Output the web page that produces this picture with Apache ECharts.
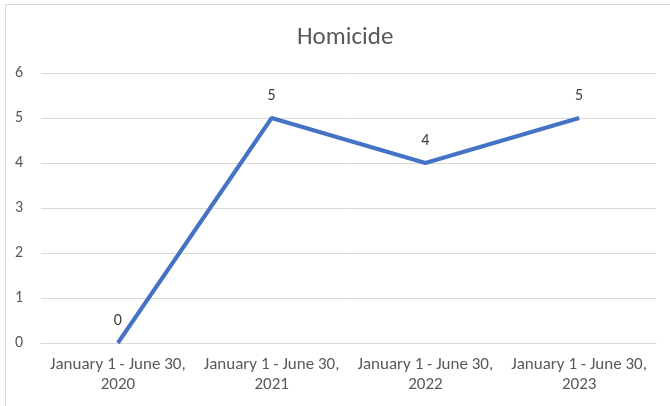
<!DOCTYPE html>
<html>
<head>
<meta charset="utf-8">
<script src="https://cdn.jsdelivr.net/npm/echarts@6/dist/echarts.min.js"></script>
<style>
  html, body { margin: 0; padding: 0; background: #fff; }
  #main { width: 670px; height: 406px; }
</style>
</head>
<body>
<div id="main"></div>
<script>
var categories = ['January 1 - June 30,\n2020', 'January 1 - June 30,\n2021', 'January 1 - June 30,\n2022', 'January 1 - June 30,\n2023'];
var homicide = [0, 5, 4, 5];
var yTicks = [0, 1, 2, 3, 4, 5, 6];

var myChart = echarts.init(document.getElementById('main'));
var font = 'Calibri, Carlito, "Liberation Sans", "Open Sans", sans-serif';

var option = {
  animation: false,
  title: {
    text: 'Homicide',
    left: 292,
    top: 20,
    textStyle: { color: '#595959', fontSize: 25, fontWeight: 'normal', fontFamily: font }
  },
  graphic: [{
    type: 'rect',
    shape: { x: 5.5, y: 4.5, width: 700, height: 450 },
    style: { fill: 'none', stroke: '#d9d9d9', lineWidth: 1 },
    silent: true
  }],
  grid: { left: 41, right: 14, top: 73, bottom: 63 },
  xAxis: {
    type: 'category',
    data: categories,
    boundaryGap: true,
    axisLine: { show: true, lineStyle: { color: '#d9d9d9', width: 1 } },
    axisTick: { show: false },
    axisLabel: { color: '#595959', fontSize: 17, fontFamily: font, lineHeight: 20, margin: 12, interval: 0 }
  },
  yAxis: {
    type: 'value',
    min: yTicks[0],
    max: yTicks[yTicks.length - 1],
    interval: 1,
    axisLine: { show: false },
    axisTick: { show: false },
    splitLine: { lineStyle: { color: '#d9d9d9', width: 1 } },
    axisLabel: { color: '#595959', fontSize: 16, fontFamily: font, margin: 18 }
  },
  series: [{
    name: 'Homicide',
    type: 'line',
    data: homicide,
    symbol: 'circle',
    symbolSize: 1,
    showSymbol: true,
    itemStyle: { color: 'rgba(0,0,0,0)' },
    lineStyle: { color: '#4472C4', width: 4 },
    label: {
      show: true,
      position: 'top',
      distance: 14,
      color: '#404040',
      fontSize: 16,
      fontFamily: font
    }
  }]
};

option && myChart.setOption(option);
</script>
</body>
</html>
